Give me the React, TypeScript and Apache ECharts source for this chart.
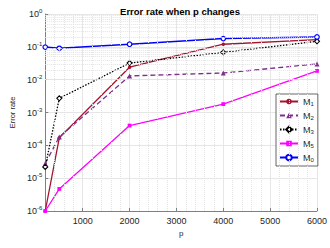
import React, { useEffect, useRef } from "react";
import * as echarts from "echarts";

const pValues = [200, 500, 2000, 4000, 6000];
const seriesNames = ["M1", "M2", "M3", "M5", "M0"];
const m1 = [1e-6, 1.7e-4, 0.024, 0.12, 0.165];
const m2 = [2.8e-5, 1.8e-4, 0.013, 0.016, 0.03];
const m3 = [2.2e-5, 0.0027, 0.032, 0.068, 0.147];
const m5 = [1e-6, 4.7e-6, 4e-4, 1.8e-3, 0.0185];
const m0 = [0.098, 0.09, 0.12, 0.178, 0.2];
const xTicks = [1000, 2000, 3000, 4000, 5000, 6000];
const yTicks = [1e-6, 1e-5, 1e-4, 1e-3, 1e-2, 1e-1, 1];
const xMinor = [400, 600, 800, 1200, 1400, 1600, 1800, 2200, 2400, 2600, 2800, 3200, 3400, 3600, 3800, 4200, 4400, 4600, 4800, 5200, 5400, 5600, 5800];
const yMinorMult = [2, 3, 4, 5, 6, 7, 8, 9];

const FONT = "'Liberation Sans', Arial, Helvetica, sans-serif";
const TXT = "#262626";

export default function App() {
  const ref = useRef<HTMLDivElement>(null);
  useEffect(() => {
    if (!ref.current) return;
    const chart = echarts.init(ref.current, undefined, { renderer: "svg" });
    const pair = (ys: number[]) => pValues.map((x, i) => [x, ys[i]]);
    const yMinor: number[] = [];
    for (let e = -6; e < 0; e++) {
      yMinorMult.forEach((m) => yMinor.push(m * Math.pow(10, e)));
    }
    const minorStyle = { color: "#e3e3e3", type: "dotted" as const, width: 1 };
    chart.setOption({
      animation: false,
      textStyle: { fontFamily: FONT },
      title: {
        text: "Error rate when p changes",
        left: 175,
        textAlign: "center",
        top: 1,
        textStyle: { fontSize: 9.5, fontWeight: "bold", color: "#000", fontFamily: FONT },
      },
      grid: { left: 33, right: 12, top: 14, bottom: 37, containLabel: false },
      legend: {
        orient: "vertical",
        left: 276,
        top: 94,
        padding: [3, 4, 3, 3],
        itemWidth: 18,
        itemHeight: 7,
        itemGap: 4,
        backgroundColor: "#fff",
        borderColor: "#404040",
        borderWidth: 0.8,
        data: seriesNames,
        formatter: (n: string) => "M{sub|" + n.slice(1) + "}",
        textStyle: {
          fontSize: 9,
          color: TXT,
          fontFamily: FONT,
          rich: { sub: { fontSize: 6, padding: [5, 0, 0, 0], color: TXT, fontFamily: FONT } },
        },
      },
      xAxis: {
        type: "value",
        min: 200,
        max: 6000,
        name: "p",
        nameLocation: "middle",
        nameGap: 17,
        nameTextStyle: { fontSize: 8, color: TXT, fontFamily: FONT },
        axisLine: { show: true, lineStyle: { color: "#808080" } },
        axisTick: { show: true, inside: true, length: 3, customValues: xTicks, lineStyle: { color: "#808080" } },
        axisLabel: {
          customValues: xTicks,
          fontSize: 9,
          color: TXT,
          margin: 5,
          fontFamily: FONT,
          formatter: (v: number) => String(v),
        },
        splitLine: { show: true, lineStyle: { color: "#e6e6e6", width: 1 } },
      },
      yAxis: {
        type: "log",
        logBase: 10,
        min: 1e-6,
        max: 1,
        name: "Error rate",
        nameLocation: "middle",
        nameGap: 24,
        nameTextStyle: { fontSize: 7.5, color: TXT, fontFamily: FONT },
        axisLine: { show: true, lineStyle: { color: "#808080" } },
        axisTick: { show: true, inside: true, length: 3, customValues: yTicks, lineStyle: { color: "#808080" } },
        axisLabel: {
          customValues: yTicks,
          margin: 3,
          color: TXT,
          fontSize: 9,
          fontFamily: FONT,
          formatter: (v: number) => "10{s|" + Math.round(Math.log10(v)) + "}",
          rich: { s: { fontSize: 6, padding: [0, 0, 6, 0], color: TXT, fontFamily: FONT } },
        },
        splitLine: { show: true, lineStyle: { color: "#e6e6e6", width: 1 } },
      },
      series: [
        {
          name: "minor",
          type: "line",
          data: [],
          silent: true,
          z: 0,
          markLine: {
            silent: true,
            symbol: "none",
            label: { show: false },
            lineStyle: minorStyle,
            data: [
              ...yMinor.map((v) => ({ yAxis: v })),
              ...xMinor.map((v) => ({ xAxis: v })),
            ],
          },
        },
        {
          name: "M1",
          type: "line",
          data: pair(m1),
          symbol: "circle",
          symbolSize: 3.5,
          color: "#A2142F",
          lineStyle: { width: 1.3, color: "#A2142F" },
          itemStyle: { color: "#A2142F" },
          z: 3,
        },
        {
          name: "M2",
          type: "line",
          data: pair(m2),
          symbol: "triangle",
          symbolSize: 5,
          color: "#7E2F8E",
          lineStyle: { width: 1.3, type: [5, 3], color: "#7E2F8E" },
          itemStyle: { color: "#7E2F8E" },
          z: 3,
        },
        {
          name: "M3",
          type: "line",
          data: pair(m3),
          symbol: "diamond",
          symbolSize: 5,
          color: "#000",
          lineStyle: { width: 1.3, type: [1.5, 1.5], color: "#000" },
          itemStyle: { color: "#fff", borderColor: "#000", borderWidth: 1.1 },
          z: 3,
        },
        {
          name: "M5",
          type: "line",
          data: pair(m5),
          symbol: "rect",
          symbolSize: 3.8,
          color: "#FF00FF",
          lineStyle: { width: 1.3, color: "#FF00FF" },
          itemStyle: { color: "#FF00FF" },
          z: 3,
        },
        {
          name: "M0",
          type: "line",
          data: pair(m0),
          symbol: "circle",
          symbolSize: 4.5,
          color: "#0000FF",
          lineStyle: { width: 1.5, color: "#0000FF" },
          itemStyle: { color: "#fff", borderColor: "#0000FF", borderWidth: 1.2 },
          z: 3,
        },
      ],
    });
    return () => chart.dispose();
  }, []);
  return <div ref={ref} style={{ width: 330, height: 248, position: "absolute", left: 0, top: 0 }} />;
}
